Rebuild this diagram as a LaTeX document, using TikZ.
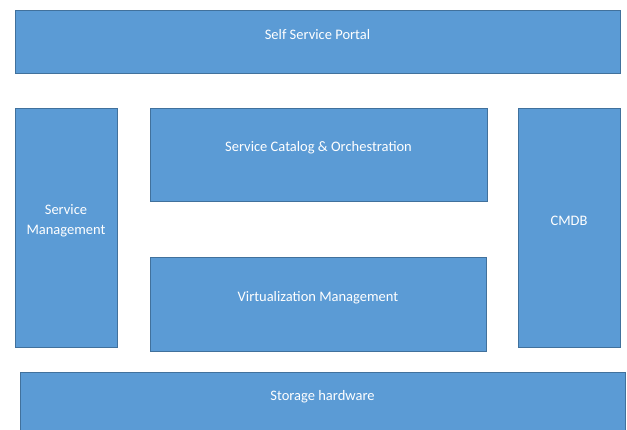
\documentclass[tikz,border=0pt]{standalone}
\usepackage{fontspec}
\setmainfont{Carlito}
\usepackage{tikz}
\usetikzlibrary{positioning}
\usepackage{xcolor}
\definecolor{blockfill}{HTML}{5B9BD5}
\definecolor{blockline}{HTML}{41719C}

\begin{document}
\begin{tikzpicture}[
        x=1pt, y=-1pt,
        block/.style={
          rectangle,
          fill=blockfill,
          draw=blockline,
          line width=0.8pt,
          inner sep=0pt
        },
        caption/.style={
          text=white,
          font=\fontsize{14.5}{20}\selectfont,
          align=center,
          yshift=6.5pt
        }
      ]

      % Frame
      \useasboundingbox (0,0) rectangle (627,430);

      % Layers
      \node[block, minimum width=605pt, minimum height=63pt,
        label={[caption, name=portaltext]center:Self Service Portal}] (portal) at (317.5,41.5) {};
      \node[block, minimum width=102pt, minimum height=239pt,
        label={[caption, name=svcmgmttext]center:Service\\Management}] (svcmgmt) at (66,227.5) {};
      \node[block, minimum width=337pt, minimum height=93pt,
        label={[caption, name=catalogtext]center:Service Catalog \& Orchestration}] (catalog) at (318.5,154.5) {};
      \node[block, minimum width=336pt, minimum height=94pt,
        label={[caption, name=virttext]center:Virtualization Management}] (virt) at (318,304) {};
      \node[block, minimum width=102pt, minimum height=239pt,
        label={[caption, name=cmdbtext]center:CMDB}] (cmdb) at (569,227.5) {};
      \node[block, minimum width=605pt, minimum height=86pt,
        label={[caption, name=storagetext, yshift=12pt]center:Storage hardware}] (storage) at (322.5,415) {};

    \end{tikzpicture}
\end{document}
